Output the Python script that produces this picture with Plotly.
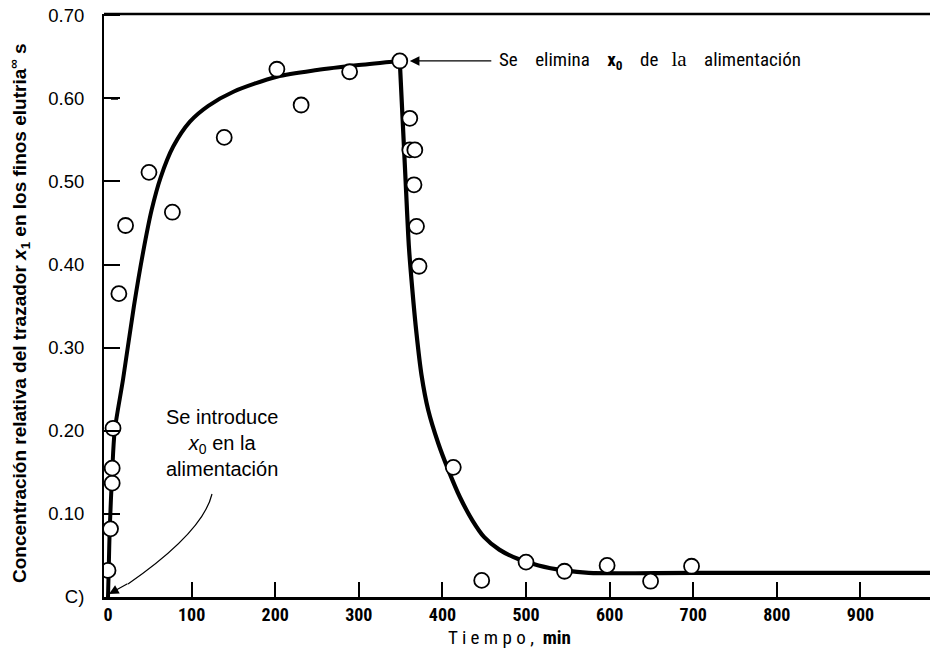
import plotly.graph_objects as go

# ---- data ----
time_pts = [0, 3, 5, 5, 6, 13, 21, 49, 77, 139, 202, 231, 289, 349,
            361, 361, 367, 366, 369, 372, 413, 447, 500, 546, 597, 649, 698]
conc_pts = [0.032, 0.082, 0.137, 0.155, 0.203, 0.365, 0.447, 0.511, 0.463, 0.553,
            0.635, 0.592, 0.632, 0.645, 0.576, 0.538, 0.538, 0.496, 0.446, 0.398,
            0.156, 0.020, 0.042, 0.031, 0.038, 0.019, 0.037]

rise_t = [0, 1, 2, 5, 8, 18, 31, 42, 52, 63, 78, 98, 120, 150, 202, 250, 300, 349]
rise_c = [0.0, 0.04, 0.08, 0.15, 0.20, 0.262, 0.350, 0.415, 0.465, 0.505, 0.542, 0.572,
          0.591, 0.608, 0.626, 0.634, 0.640, 0.645]

fall_t = [349, 356, 360, 364, 369, 375, 383, 395, 407, 421, 436, 450, 468, 490, 515, 546,
          575, 700, 1000]
fall_c = [0.645, 0.50, 0.42, 0.37, 0.317, 0.267, 0.225, 0.185, 0.153, 0.120, 0.092, 0.072,
          0.057, 0.046, 0.038, 0.032, 0.029, 0.029, 0.029]

x_ticks = [0, 100, 200, 300, 400, 500, 600, 700, 800, 900]
x_ticktext = ["0", "100", "200", "300", "400", "500", "600", "700", "800", "900"]
y_ticks = [0, 0.1, 0.2, 0.3, 0.4, 0.5, 0.6, 0.7]
y_ticktext = ["C)", "0.10", "0.20", "0.30", "0.40", "0.50", "0.60", "0.70"]

# ---- layout geometry (page has an 8px body margin) ----
OFF = 8
W, H = 938 - OFF, 654 - OFF
L, T = 104 - OFF, 14 - OFF
R = 0
B = H - (597 - OFF)
PW, PH = W - L - R, H - T - B


def px(xp):  # page pixel x -> paper
    return (xp - OFF - L) / PW


def py(yp):  # page pixel y -> paper
    return (597 - yp) / PH


NARROW = "Liberation Sans Narrow, Roboto Condensed, DejaVu Sans Condensed, Roboto, Liberation Sans"
SANS = "Liberation Sans, Arial, Helvetica"
SP = "&nbsp;"

fig = go.Figure()

fig.add_trace(go.Scatter(x=rise_t, y=rise_c, mode="lines",
                         line=dict(color="black", width=4, shape="spline", smoothing=0.8),
                         hoverinfo="skip", showlegend=False))
fig.add_trace(go.Scatter(x=fall_t, y=fall_c, mode="lines",
                         line=dict(color="black", width=4.2, shape="spline", smoothing=0.8),
                         hoverinfo="skip", showlegend=False))
fig.add_trace(go.Scatter(x=time_pts, y=conc_pts, mode="markers",
                         marker=dict(symbol="circle", size=15, color="white",
                                     line=dict(color="black", width=1.8)),
                         showlegend=False))

fig.update_layout(
    width=W, height=H,
    margin=dict(l=L, r=R, t=T, b=B, autoexpand=False),
    paper_bgcolor="white", plot_bgcolor="white",
    showlegend=False,
    xaxis=dict(range=[-4.8, 992.8], showgrid=False, zeroline=False, automargin=False,
               showline=True, linecolor="black", linewidth=2.5,
               ticks="inside", ticklen=15, tickwidth=1.5, tickcolor="black",
               tickvals=x_ticks, ticktext=x_ticktext,
               tickfont=dict(family=NARROW, size=18, color="black", weight="bold"),
               ticklabelstandoff=0, ticklabeloverflow="allow"),
    yaxis=dict(range=[0, 0.7015], showgrid=False, zeroline=False, automargin=False,
               showline=True, linecolor="black", linewidth=2,
               ticks="inside", ticklen=16, tickwidth=1.5, tickcolor="black",
               tickvals=y_ticks, ticktext=y_ticktext,
               tickfont=dict(family=SANS, size=18.5, color="black"),
               ticklabelstandoff=14, ticklabeloverflow="allow"),
)

# top border
fig.add_shape(type="line", xref="paper", yref="paper", x0=0, x1=1, y0=1, y1=1,
              line=dict(color="black", width=2.5))

# y-axis title
fig.add_annotation(xref="paper", yref="paper", x=px(20), y=py(313),
                   text="Concentración relativa del trazador <i>x</i><sub>1</sub> en los finos elutria<sup>∞</sup> s",
                   textangle=-90, showarrow=False, xanchor="center", yanchor="middle",
                   font=dict(family=SANS, size=19, color="black", weight="bold"))

# x-axis title
fig.add_annotation(xref="paper", yref="paper", x=px(509), y=py(637),
                   text="T i e m p o ," + SP + SP + "<b>min</b>",
                   showarrow=False, xanchor="center", yanchor="middle",
                   font=dict(family=NARROW, size=19, color="black"))

# "Se elimina x0 de la alimentación"
fig.add_annotation(x=361, y=0.645, ax=83, ay=0, xref="x", yref="y",
                   text="", showarrow=True, arrowhead=2, arrowsize=1.6, arrowwidth=1.2,
                   arrowcolor="black")
fig.add_annotation(xref="paper", yref="paper", x=px(497), y=py(60),
                   text="Se" + SP * 4 + "elimina" + SP * 4 + "<b>x</b><sub><b>0</b></sub>" + SP * 4 + "de" + SP * 3
                        + "<span style='font-family:Liberation Serif;font-size:21px'>la</span>" + SP * 4 + "alimentación",
                   showarrow=False, xanchor="left", yanchor="middle",
                   font=dict(family=NARROW, size=19, color="black"))

# "Se introduce x0 en la alimentación"
fig.add_annotation(xref="paper", yref="paper", x=px(222), y=py(443),
                   text="Se introduce<br><i>x</i><sub>0</sub> en la<br>alimentación",
                   showarrow=False, xanchor="center", yanchor="middle", align="center",
                   font=dict(family=SANS, size=20, color="black"))

# curved arrow toward origin
x0p, y0p = px(212), py(494)
cxp, cyp = px(203), py(532)
x1p, y1p = px(128), py(584)
fig.add_shape(type="path", xref="paper", yref="paper",
              path=f"M {x0p},{y0p} Q {cxp},{cyp} {x1p},{y1p}",
              line=dict(color="black", width=1.2))
fig.add_annotation(xref="paper", yref="paper", axref="pixel", ayref="pixel",
                   x=px(109), y=py(594), ax=20, ay=-11,
                   text="", showarrow=True, arrowhead=2, arrowsize=1.6, arrowwidth=1.2,
                   arrowcolor="black")

# small dash mark near 0.60
fig.add_shape(type="line", xref="paper", yref="paper",
              x0=px(111), x1=px(118), y0=py(98.5), y1=py(98.5),
              line=dict(color="black", width=2.5))

fig.write_html("out.html")
